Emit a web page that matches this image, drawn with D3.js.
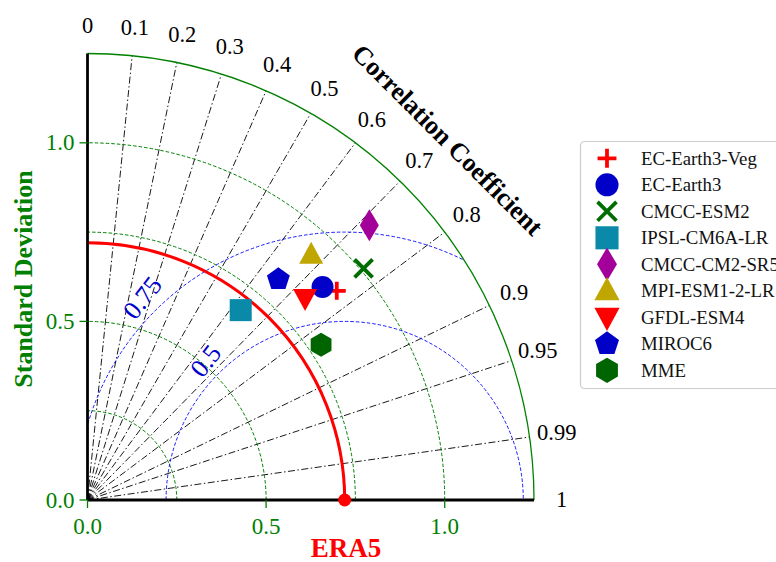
<!DOCTYPE html>
<html><head><meta charset="utf-8">
<script src="https://cdn.jsdelivr.net/npm/d3@7"></script>
<style>body{margin:0;background:#fff}svg{display:block}</style>
</head><body><svg id="c" width="776" height="562"></svg>
<script>
// ---- data ----
const models = ["EC-Earth3-Veg","EC-Earth3","CMCC-ESM2","IPSL-CM6A-LR","CMCC-CM2-SR5","MPI-ESM1-2-LR","GFDL-ESM4","MIROC6","MME"];
const stdDev = [0.911, 0.888, 1.009, 0.683, 1.102, 0.929, 0.831, 0.817, 0.785];
const corrCoef = [0.766, 0.741, 0.766, 0.628, 0.716, 0.674, 0.733, 0.654, 0.833];
const shapes = ["plus","circle","x","square","thin_diamond","triangle_up","triangle_down","pentagon","hexagon"];
const colors = ["#ff0000","#0000c8","#006d00","#0a8aa8","#a3009a","#bfa600","#ff0000","#0000c8","#006400"];
const refStd = 0.72;
const refLabel = "ERA5";
const maxStd = 1.25;
const stdTicks = [0.0, 0.5, 1.0];
const stdGrid = [0.25, 0.5, 0.75, 1.0];
const corrTicks = [0, 0.1, 0.2, 0.3, 0.4, 0.5, 0.6, 0.7, 0.8, 0.9, 0.95, 0.99, 1];
const rmsLevels = [0.5, 0.75];

// ---- layout ----
const svg = d3.select("#c");
const ox = 87.5, oy = 500;
const R = d3.scaleLinear().domain([0, maxStd]).range([0, 446.5]);
const serif = "'Liberation Serif','Times New Roman',serif";
const P = (s, c) => { const a = Math.acos(c); return [ox + R(s) * Math.cos(a), oy - R(s) * Math.sin(a)]; };

function quarterArc(rad) {
  const p = d3.path();
  p.moveTo(ox + rad, oy);
  p.arc(ox, oy, rad, 0, -Math.PI / 2, true);
  return p.toString();
}

const defs = svg.append("defs");
{
  const p = d3.path();
  p.moveTo(ox, oy); p.lineTo(ox + R(maxStd), oy);
  p.arc(ox, oy, R(maxStd), 0, -Math.PI / 2, true); p.closePath();
  defs.append("clipPath").attr("id", "sector").append("path").attr("d", p.toString());
}

// correlation lines
svg.append("g").selectAll("line").data(corrTicks.filter(c => c > 0 && c < 1)).join("line")
  .attr("x1", ox).attr("y1", oy)
  .attr("x2", c => P(maxStd, c)[0]).attr("y2", c => P(maxStd, c)[1])
  .attr("stroke", "#000").attr("stroke-width", 0.9).attr("stroke-dasharray", "7,2.5,1.5,2.5");

// std grid circles
svg.append("g").selectAll("path").data(stdGrid).join("path")
  .attr("d", s => quarterArc(R(s))).attr("fill", "none")
  .attr("stroke", "green").attr("stroke-width", 1).attr("stroke-dasharray", "3.5,2");

// RMS circles
const rmsG = svg.append("g").attr("clip-path", "url(#sector)");
rmsG.selectAll("circle").data(rmsLevels).join("circle")
  .attr("cx", ox + R(refStd)).attr("cy", oy).attr("r", d => R(d))
  .attr("fill", "none").attr("stroke", "blue").attr("stroke-width", 0.9).attr("stroke-dasharray", "3.5,2");
svg.append("g").selectAll("text").data(rmsLevels).join("text")
  .attr("transform", d => {
    const rr = R(d + 0.05), a = 3 * Math.PI / 4;
    return `translate(${ox + R(refStd) + rr * Math.cos(a)},${oy - rr * Math.sin(a)}) rotate(-52)`;
  })
  .attr("text-anchor", "middle").attr("dominant-baseline", "central")
  .attr("font-family", serif).attr("font-size", 26).attr("fill", "#0000cc")
  .text(d => d);

// outer arc
svg.append("path").attr("d", quarterArc(R(maxStd))).attr("fill", "none").attr("stroke", "green").attr("stroke-width", 1.3);

// reference arc
svg.append("path").attr("d", quarterArc(R(refStd))).attr("fill", "none").attr("stroke", "red").attr("stroke-width", 3);

// axes
svg.append("line").attr("x1", ox).attr("y1", oy).attr("x2", ox).attr("y2", oy - R(maxStd)).attr("stroke", "#000").attr("stroke-width", 2.8);
svg.append("line").attr("x1", ox).attr("y1", oy).attr("x2", ox + R(maxStd)).attr("y2", oy).attr("stroke", "#000").attr("stroke-width", 3.2);

// y ticks
const yt = svg.append("g");
yt.selectAll("line").data(stdTicks).join("line")
  .attr("x1", ox - 8).attr("x2", ox).attr("y1", d => oy - R(d)).attr("y2", d => oy - R(d))
  .attr("stroke", "green").attr("stroke-width", 1.3);
yt.selectAll("text").data(stdTicks).join("text")
  .attr("x", ox - 13).attr("y", d => oy - R(d)).attr("text-anchor", "end").attr("dominant-baseline", "central")
  .attr("font-family", serif).attr("font-size", 23).attr("fill", "green").text(d => d.toFixed(1));
// x ticks
const xt = svg.append("g");
xt.selectAll("line").data(stdTicks).join("line")
  .attr("x1", d => ox + R(d)).attr("x2", d => ox + R(d)).attr("y1", oy).attr("y2", oy + 8)
  .attr("stroke", "green").attr("stroke-width", 1.3);
xt.selectAll("text").data(stdTicks).join("text")
  .attr("x", d => ox + R(d)).attr("y", oy + 34).attr("text-anchor", "middle")
  .attr("font-family", serif).attr("font-size", 23).attr("fill", "green").text(d => d.toFixed(1));

// correlation tick labels
svg.append("g").selectAll("text").data(corrTicks).join("text")
  .attr("x", c => { const a = Math.acos(c); return ox + 474 * Math.cos(a); })
  .attr("y", c => { const a = Math.acos(c); return oy - 474 * Math.sin(a) - 1; })
  .attr("text-anchor", "middle").attr("dominant-baseline", "central")
  .attr("font-family", serif).attr("font-size", 22.5).attr("fill", "#000")
  .text(c => String(c));

// axis titles
{
  const rr = R(1.425), a = Math.PI / 4;
  svg.append("text").attr("transform", `translate(${ox + rr * Math.cos(a)},${oy - rr * Math.sin(a)}) rotate(45)`)
    .attr("text-anchor", "middle").attr("dominant-baseline", "central")
    .attr("font-family", serif).attr("font-weight", "bold").attr("font-size", 26).text("Correlation Coefficient");
}
svg.append("text").attr("transform", "translate(32,279) rotate(-90)").attr("text-anchor", "middle")
  .attr("font-family", serif).attr("font-weight", "bold").attr("font-size", 26).attr("fill", "green").text("Standard Deviation");
svg.append("text").attr("x", 346).attr("y", 557).attr("text-anchor", "middle")
  .attr("font-family", serif).attr("font-weight", "bold").attr("font-size", 27).attr("fill", "red").text(refLabel);

// reference point
svg.append("circle").attr("cx", ox + R(refStd)).attr("cy", oy).attr("r", 6.5).attr("fill", "red");

// marker drawing
function poly(n, rad, rot) {
  const pts = [];
  for (let i = 0; i < n; i++) { const a = rot + i * 2 * Math.PI / n; pts.push([rad * Math.cos(a), rad * Math.sin(a)]); }
  return "M" + pts.map(p => p.join(",")).join("L") + "Z";
}
function drawMarker(g, shape, color, k) {
  k = k || 1;
  const up = -Math.PI / 2;
  switch (shape) {
    case "plus":
      g.append("path").attr("d", `M${-9*k},0H${9*k}M0,${-9*k}V${9*k}`).attr("stroke", color).attr("stroke-width", 3.8).attr("fill", "none"); break;
    case "x":
      g.append("path").attr("d", `M${-9*k},${-9*k}L${9*k},${9*k}M${-9*k},${9*k}L${9*k},${-9*k}`).attr("stroke", color).attr("stroke-width", 3.8).attr("fill", "none"); break;
    case "circle":
      g.append("circle").attr("r", 11 * k).attr("fill", color); break;
    case "square":
      g.append("rect").attr("x", -11 * k).attr("y", -11 * k).attr("width", 22 * k).attr("height", 22 * k).attr("fill", color); break;
    case "thin_diamond":
      g.append("path").attr("d", `M0,${-16*k}L${9.5*k},0L0,${16*k}L${-9.5*k},0Z`).attr("fill", color); break;
    case "triangle_up":
      g.append("path").attr("d", `M0,${-13*k}L${12*k},${9*k}L${-12*k},${9*k}Z`).attr("fill", color); break;
    case "triangle_down":
      g.append("path").attr("d", `M0,${13*k}L${12*k},${-9*k}L${-12*k},${-9*k}Z`).attr("fill", color); break;
    case "pentagon":
      g.append("path").attr("d", poly(5, 12 * k, up)).attr("fill", color); break;
    case "hexagon":
      g.append("path").attr("d", poly(6, 12 * k, up)).attr("fill", color); break;
  }
}

// model points
models.forEach((m, i) => {
  const [x, y] = P(stdDev[i], corrCoef[i]);
  drawMarker(svg.append("g").attr("transform", `translate(${x},${y})`), shapes[i], colors[i], 1);
});

// legend
const lg = svg.append("g");
lg.append("rect").attr("x", 580.5).attr("y", 141.5).attr("width", 210).attr("height", 247).attr("rx", 4)
  .attr("fill", "#fff").attr("stroke", "#cccccc").attr("stroke-width", 1.2);
models.forEach((m, i) => {
  const y = 158.3 + i * 26.5;
  drawMarker(lg.append("g").attr("transform", `translate(607,${y})`), shapes[i], colors[i], 1.05);
  lg.append("text").attr("x", 641).attr("y", y).attr("dominant-baseline", "central")
    .attr("font-family", serif).attr("font-size", 18.8).attr("fill", "#111").text(m);
});
</script></body></html>
